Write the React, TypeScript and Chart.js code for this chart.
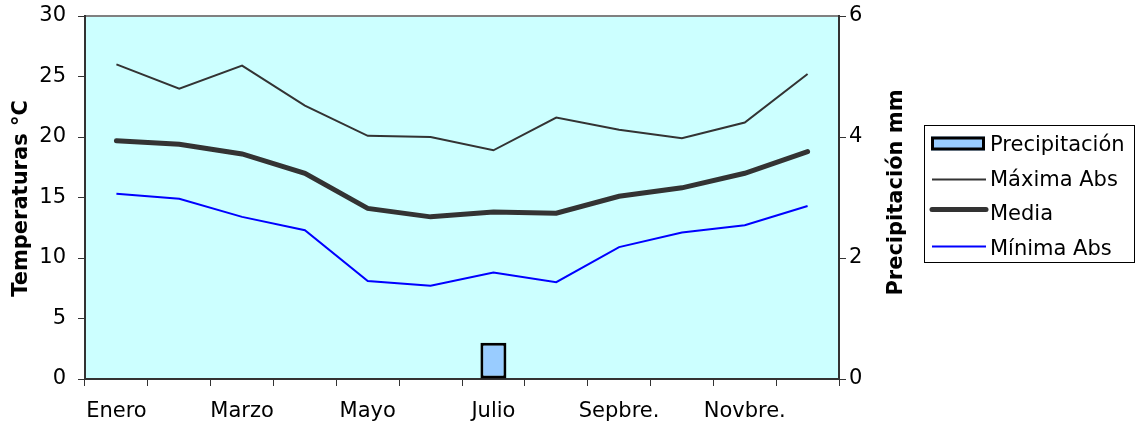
import React, { useEffect, useRef } from "react";
import { Chart, registerables } from "chart.js";

Chart.register(...registerables);

const months = ["Enero", "Febrero", "Marzo", "Abril", "Mayo", "Junio", "Julio", "Agosto", "Sepbre.", "Octubre", "Novbre.", "Dicbre."];
const shownLabels = ["Enero", "", "Marzo", "", "Mayo", "", "Julio", "", "Sepbre.", "", "Novbre.", ""];
const precipitacion = [0, 0, 0, 0, 0, 0, 0.6, 0, 0, 0, 0, 0];
const maximaAbs = [26, 24, 25.9, 22.6, 20.1, 20, 18.9, 21.6, 20.6, 19.9, 21.2, 25.2];
const media = [19.7, 19.4, 18.6, 17, 14.1, 13.4, 13.8, 13.7, 15.1, 15.8, 17, 18.8];
const minimaAbs = [15.3, 14.9, 13.4, 12.3, 8.1, 7.7, 8.8, 8, 10.9, 12.1, 12.7, 14.3];
const tempTicks = [0, 5, 10, 15, 20, 25, 30];
const precTicks = [0, 2, 4, 6];
const leftTitle = "Temperaturas °C";
const rightTitle = "Precipitación mm";

const FONT = "'DejaVu Sans', Verdana, sans-serif";

const decorPlugin = {
  id: "decor",
  beforeDraw(chart: any) {
    const { ctx, chartArea: a } = chart;
    ctx.save();
    ctx.fillStyle = "#CCFFFF";
    ctx.fillRect(a.left, a.top, a.right - a.left, a.bottom - a.top);
    ctx.strokeStyle = "#808080";
    ctx.lineWidth = 2;
    ctx.beginPath();
    ctx.moveTo(a.left, a.top);
    ctx.lineTo(a.right, a.top);
    ctx.stroke();
    ctx.restore();
  },
  afterDraw(chart: any) {
    const { ctx, chartArea: a } = chart;
    const midY = (a.top + a.bottom) / 2;
    ctx.save();
    ctx.fillStyle = "#000";
    ctx.font = `bold 21px ${FONT}`;
    ctx.textAlign = "center";
    ctx.textBaseline = "alphabetic";
    ctx.save();
    ctx.translate(27, midY + 1);
    ctx.rotate(-Math.PI / 2);
    ctx.fillText(leftTitle, 0, 0);
    ctx.restore();
    ctx.save();
    ctx.translate(902, midY - 5);
    ctx.rotate(-Math.PI / 2);
    ctx.fillText(rightTitle, 0, 0);
    ctx.restore();

    // legend
    const bx = 924, by = 125, bw = 210, bh = 137;
    ctx.strokeStyle = "#000";
    ctx.lineWidth = 1;
    ctx.strokeRect(bx + 0.5, by + 0.5, bw, bh);
    const ds = chart.data.datasets;
    const textX = 990;
    const rows = [144.5, 179.5, 213.5, 248.5];
    ctx.font = `21px ${FONT}`;
    ctx.textAlign = "left";
    ctx.textBaseline = "middle";
    ds.forEach((d: any, i: number) => {
      const y = rows[i];
      if (d.type === "bar") {
        ctx.fillStyle = d.backgroundColor;
        ctx.fillRect(931, y - 8, 54, 14);
        ctx.strokeStyle = d.borderColor;
        ctx.lineWidth = 3;
        ctx.strokeRect(932.5, y - 6.5, 51, 11);
      } else {
        ctx.strokeStyle = d.borderColor;
        ctx.lineWidth = d.borderWidth;
        ctx.lineCap = d.borderWidth > 3 ? "round" : "butt";
        const ly = i === 2 ? y - 4 : i === 3 ? y - 2 : y;
        ctx.beginPath();
        ctx.moveTo(932, ly);
        ctx.lineTo(986, ly);
        ctx.stroke();
      }
      ctx.fillStyle = "#000";
      ctx.fillText(d.label, textX, y + 1);
    });
    ctx.restore();
  },
};

export default function App() {
  const ref = useRef<HTMLCanvasElement>(null);
  useEffect(() => {
    document.body.style.margin = "0";
    const tickFont = { family: FONT, size: 21 };
    const chart = new Chart(ref.current as HTMLCanvasElement, {
      type: "bar",
      data: {
        labels: months,
        datasets: [
          {
            type: "bar",
            label: "Precipitación",
            data: precipitacion,
            yAxisID: "y1",
            backgroundColor: "#99CCFF",
            borderColor: "#000000",
            borderWidth: 3,
            borderSkipped: false,
            categoryPercentage: 1,
            barPercentage: 0.414,
            order: 5,
          },
          {
            type: "line",
            label: "Máxima Abs",
            data: maximaAbs,
            yAxisID: "y",
            borderColor: "#333333",
            backgroundColor: "#333333",
            borderWidth: 2,
            pointRadius: 0,
            tension: 0,
            order: 3,
          },
          {
            type: "line",
            label: "Media",
            data: media,
            yAxisID: "y",
            borderColor: "#333333",
            backgroundColor: "#333333",
            borderWidth: 5,
            borderCapStyle: "round",
            pointRadius: 0,
            tension: 0,
            order: 2,
          },
          {
            type: "line",
            label: "Mínima Abs",
            data: minimaAbs,
            yAxisID: "y",
            borderColor: "#0000FF",
            backgroundColor: "#0000FF",
            borderWidth: 2,
            pointRadius: 0,
            tension: 0,
            order: 1,
          },
        ] as any,
      },
      options: {
        responsive: false,
        animation: false,
        events: [],
        layout: { padding: { left: 0, top: 16, right: 229, bottom: 0 } },
        plugins: { legend: { display: false }, tooltip: { enabled: false } },
        scales: {
          x: {
            offset: true,
            grid: { offset: true, drawOnChartArea: false, drawTicks: true, tickLength: 7, color: "#333333", lineWidth: 1 },
            border: { display: true, color: "#333333", width: 2 },
            ticks: {
              autoSkip: false,
              maxRotation: 0,
              padding: 13,
              color: "#000",
              font: tickFont,
              callback: (_v: any, i: number) => shownLabels[i],
            },
            afterFit: (s: any) => { s.height = 48; },
          },
          y: {
            position: "left",
            min: 0,
            max: 30,
            afterBuildTicks: (s: any) => { s.ticks = tempTicks.map((v) => ({ value: v })); },
            grid: { drawOnChartArea: false, drawTicks: true, tickLength: 7, color: "#333333" },
            border: { display: true, color: "#333333", width: 2 },
            ticks: { padding: 12, color: "#000", font: tickFont },
            afterFit: (s: any) => { s.width = 85; s.paddingTop = 0; s.paddingBottom = 0; },
          },
          y1: {
            position: "right",
            min: 0,
            max: 6,
            afterBuildTicks: (s: any) => { s.ticks = precTicks.map((v) => ({ value: v })); },
            grid: { drawOnChartArea: false, drawTicks: true, tickLength: 7, color: "#333333" },
            border: { display: true, color: "#333333", width: 2 },
            ticks: { padding: 3, color: "#000", font: tickFont },
            afterFit: (s: any) => { s.width = 72; s.paddingTop = 0; s.paddingBottom = 0; },
          },
        },
      } as any,
      plugins: [decorPlugin],
    });
    return () => chart.destroy();
  }, []);
  return <canvas ref={ref} width={1140} height={427} style={{ display: "block" }} />;
}
